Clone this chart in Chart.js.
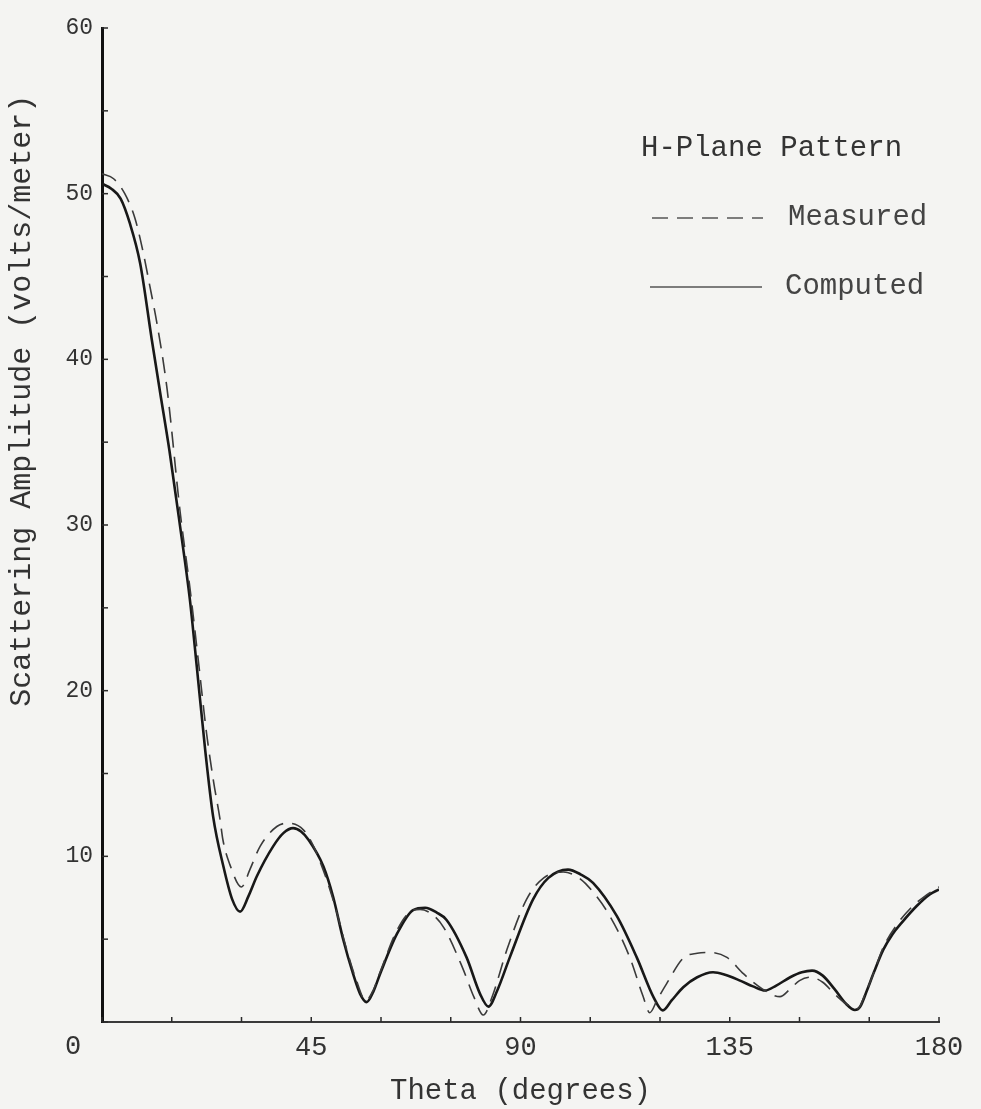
<!DOCTYPE html>
<html>
<head>
<meta charset="utf-8">
<script src="https://cdn.jsdelivr.net/npm/chart.js@4/dist/chart.umd.min.js"></script>
<style>
    body { margin: 0; background: #f4f4f2; }
    .chartWrapper { width: 981px; height: 1109px; position: relative; }
</style>
</head>
<body>
<div class="chartWrapper"><canvas id="scatterChart"></canvas></div>
<script>
//-----------------------------------------------------------------------------
// data
//-----------------------------------------------------------------------------
const legendTitle = "H-Plane Pattern";
const seriesNames = ["Measured", "Computed"];
const xTitle = "Theta (degrees)";
const yTitle = "Scattering Amplitude (volts/meter)";
const xLabelTicks = [45, 90, 135, 180];
const yLabelTicks = [10, 20, 30, 40, 50, 60];

const thetaComputed = [0, 2, 4, 6, 8.2, 10.7, 12.5, 14.5, 16.8, 18.9, 20.4, 22.2, 23.9, 26.1, 28, 29.7,
    31.5, 33.3, 36.8, 39, 41.1, 42.8, 44.4, 47.6, 49.7, 51.9, 54, 55.5, 56.9, 58.3, 59.8, 63.4, 66.9,
    69.5, 72, 74.1, 78.4, 81.3, 83.1, 85, 87.7, 92.7, 96, 100.2, 103, 105.6, 110.7, 115, 118.6, 120.6,
    122.5, 125, 128, 131.4, 134, 137.2, 140, 142.6, 145, 148, 150.5, 152.7, 155, 157.5, 160, 161.9,
    163, 164.5, 166, 168, 170, 172, 175.2, 178, 180];
const ampComputed = [50.6, 50.3, 49.7, 48.2, 45.8, 41.2, 38.0, 34.5, 29.9, 25.5, 21.4, 16.4, 12.4, 9.4, 7.4, 6.66,
    7.6, 8.8, 10.6, 11.4, 11.7, 11.5, 11.0, 9.4, 7.56, 4.95, 2.9, 1.7, 1.2, 1.8, 2.9, 5.3, 6.76,
    6.9, 6.6, 6.16, 3.9, 1.7, 0.93, 1.9, 3.9, 7.4, 8.7, 9.2, 8.9, 8.4, 6.4, 3.9, 1.5, 0.7,
    1.3, 2.1, 2.7, 3.0, 2.85, 2.5, 2.15, 1.9, 2.2, 2.7, 3.0, 3.1, 2.8, 2.0, 1.1, 0.72,
    0.9, 1.9, 3.0, 4.35, 5.3, 6.0, 7.0, 7.7, 8.0];

const thetaMeasured = [0, 2.5, 4.9, 7.1, 8.9, 10.3, 11.8, 14, 16.8, 19, 20.8, 22.5, 24, 25.4, 26, 27.5, 30,
    31.8, 34, 37.6, 40, 43.3, 45.5, 48.3, 50.5, 52.6, 54.6, 56.7, 58.3, 59.8, 63.2, 66, 68.4, 71, 73.5,
    77.5, 80, 82, 84, 87, 91.3, 95, 99.2, 102, 104, 109, 113.5, 116.3, 117.8, 119.5, 121.4, 125, 128,
    130.8, 134.4, 138, 142, 145.8, 148, 150, 152.3, 155, 157.5, 160, 162.5, 164, 166, 168, 171, 174,
    177, 180];
const ampMeasured = [51.2, 50.9, 50.0, 48.5, 46.4, 44.4, 42.2, 38.2, 30.8, 26.0, 21.6, 17.4, 14.5, 12.2, 11.0, 9.5, 8.15,
    9.2, 10.6, 11.8, 12.0, 11.6, 10.6, 8.6, 6.6, 4.4, 2.6, 1.3, 1.9, 3.0, 5.4, 6.6, 6.8, 6.5, 5.7,
    3.3, 1.5, 0.42, 1.6, 4.3, 7.4, 8.7, 9.05, 8.8, 8.35, 6.5, 3.9, 1.6, 0.56, 1.4, 2.3, 3.86, 4.15,
    4.2, 3.9, 2.9, 2.0, 1.53, 2.0, 2.5, 2.7, 2.4, 1.7, 1.1, 0.8, 1.6, 3.0, 4.5, 5.9, 6.9,
    7.6, 8.15];

const typeFont = "'Liberation Mono', 'DejaVu Sans Mono', monospace";
const inkColor = "#2a2a2a";
const dashPattern = [16, 9];

//-----------------------------------------------------------------------------
// extra drawing: inward tick marks, shared origin label, y title and legend
//-----------------------------------------------------------------------------
const paperDetails = {
    id: "paperDetails",
    afterDraw(chart) {
        const ctx = chart.ctx;
        const xs = chart.scales.x;
        const ys = chart.scales.y;
        ctx.save();
        ctx.strokeStyle = inkColor;
        ctx.lineWidth = 1.5;
        // little ticks pointing into the plot, like the original
        xs.ticks.forEach(t => {
            const px = xs.getPixelForValue(t.value);
            ctx.beginPath();
            ctx.moveTo(px, ys.bottom);
            ctx.lineTo(px, ys.bottom - 5);
            ctx.stroke();
        });
        ys.ticks.forEach(t => {
            const py = ys.getPixelForValue(t.value);
            ctx.beginPath();
            ctx.moveTo(xs.left, py);
            ctx.lineTo(xs.left + 6, py);
            ctx.stroke();
        });

        // the single "0" sits in the corner below/left of the origin
        ctx.fillStyle = "#333";
        ctx.font = `27px ${typeFont}`;
        ctx.textAlign = "center";
        ctx.textBaseline = "middle";
        ctx.fillText("0", xs.getPixelForValue(0) - 29, ys.getPixelForValue(0) + 25);

        // y title is typed higher up than the middle of the axis
        ctx.save();
        ctx.translate(22, ys.getPixelForValue(37.5));
        ctx.rotate(-Math.PI / 2);
        ctx.font = `30px ${typeFont}`;
        ctx.fillText(yTitle, 0, 0);
        ctx.restore();

        // legend
        ctx.textAlign = "left";
        ctx.font = `29px ${typeFont}`;
        ctx.fillStyle = "#333";
        ctx.fillText(legendTitle, 641, 148);

        const rows = [
            { ds: chart.data.datasets[0], y: 218, x0: 652, x1: 763, tx: 788 },
            { ds: chart.data.datasets[1], y: 287, x0: 650, x1: 762, tx: 785 }
        ];
        rows.forEach(r => {
            ctx.beginPath();
            ctx.setLineDash(r.ds.borderDash || []);
            ctx.lineWidth = 1.5;
            ctx.strokeStyle = "#555";
            ctx.moveTo(r.x0, r.y);
            ctx.lineTo(r.x1, r.y);
            ctx.stroke();
            ctx.setLineDash([]);
            ctx.fillStyle = "#444";
            ctx.fillText(r.ds.label, r.tx, r.y - 1);
        });
        ctx.restore();
    }
};

//-----------------------------------------------------------------------------
// build the chart
//-----------------------------------------------------------------------------
function toPoints(xs, ys) {
    return xs.map((x, i) => ({ x: x, y: ys[i] }));
}

function drawChart() {
    const ctx = document.getElementById("scatterChart").getContext("2d");
    new Chart(ctx, {
        type: "line",
        data: {
            datasets: [
                {
                    label: seriesNames[0],
                    data: toPoints(thetaMeasured, ampMeasured),
                    borderColor: "#3a3a3a",
                    borderWidth: 1.6,
                    borderDash: dashPattern,
                    pointRadius: 0,
                    cubicInterpolationMode: "monotone",
                    fill: false
                },
                {
                    label: seriesNames[1],
                    data: toPoints(thetaComputed, ampComputed),
                    borderColor: "#181818",
                    borderWidth: 2.6,
                    pointRadius: 0,
                    cubicInterpolationMode: "monotone",
                    fill: false
                }
            ]
        },
        options: {
            responsive: true,
            maintainAspectRatio: false,
            animation: false,
            layout: { padding: { top: 28, right: 42, left: 0, bottom: 0 } },
            plugins: {
                legend: { display: false },
                tooltip: { enabled: false }
            },
            scales: {
                x: {
                    type: "linear",
                    min: 0,
                    max: 180,
                    afterFit: scale => { scale.height = 87; },
                    grid: { display: false, drawTicks: false },
                    border: { display: true, color: "#3a3a3a", width: 2 },
                    ticks: {
                        stepSize: 15,
                        autoSkip: false,
                        maxRotation: 0,
                        padding: 10,
                        color: "#333",
                        font: { family: typeFont, size: 27 },
                        callback: v => xLabelTicks.includes(v) ? String(v) : ""
                    },
                    title: {
                        display: true,
                        text: xTitle,
                        color: "#333",
                        font: { family: typeFont, size: 29 },
                        padding: { top: 0, bottom: 0 }
                    }
                },
                y: {
                    min: 0,
                    max: 60,
                    afterFit: scale => { scale.width = 102; },
                    grid: { display: false, drawTicks: false },
                    border: { display: true, color: "#111", width: 3 },
                    ticks: {
                        stepSize: 5,
                        autoSkip: false,
                        padding: 9,
                        color: "#333",
                        font: { family: typeFont, size: 23 },
                        callback: v => yLabelTicks.includes(v) ? String(v) : ""
                    }
                }
            }
        },
        plugins: [paperDetails]
    });
}

drawChart();
</script>
</body>
</html>
